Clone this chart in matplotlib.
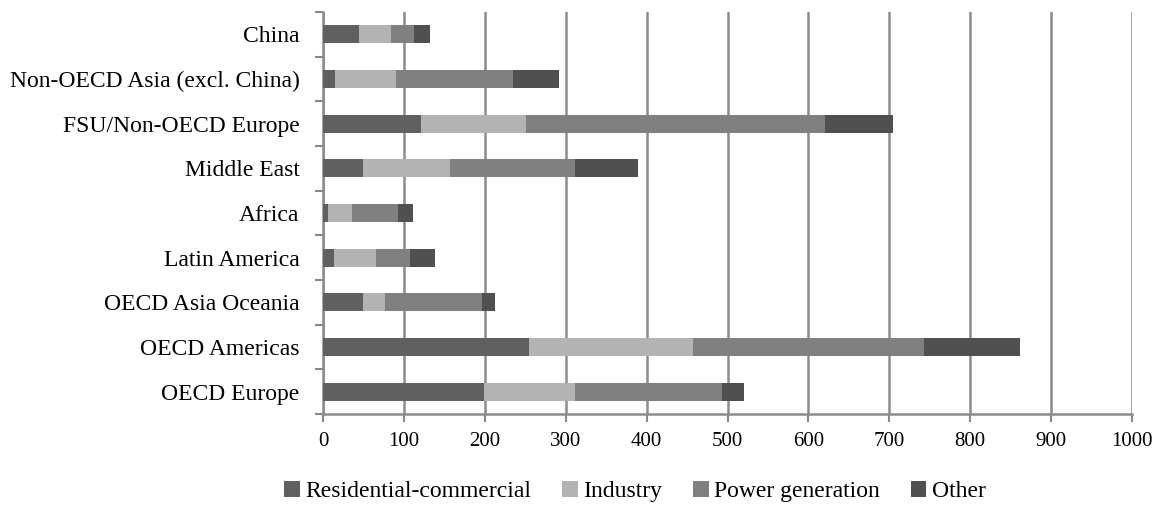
import matplotlib

matplotlib.use("Agg")
import matplotlib.pyplot as plt
import numpy as np

plt.rcParams["font.family"] = ["Liberation Serif", "DejaVu Serif"]

regions = [
    "OECD Europe",
    "OECD Americas",
    "OECD Asia Oceania",
    "Latin America",
    "Africa",
    "Middle East",
    "FSU/Non-OECD Europe",
    "Non-OECD Asia (excl. China)",
    "China",
]
residential = [199, 255, 49, 14, 6, 49, 121, 15, 44]
industry = [112, 202, 28, 52, 30, 108, 130, 75, 40]
power = [182, 286, 119, 41, 57, 155, 369, 145, 29]
other = [27, 119, 16, 31, 18, 77, 85, 57, 19]

series = [
    ("Residential-commercial", residential, "#606060"),
    ("Industry", industry, "#b3b3b3"),
    ("Power generation", power, "#808080"),
    ("Other", other, "#505050"),
]

fig = plt.figure(figsize=(11.59, 5.07), dpi=100)
ax = fig.add_axes([0.2787, 0.1834, 0.6980, 0.7929])

y = np.arange(len(regions))
left = np.zeros(len(regions))
for name, vals, color in series:
    ax.barh(y, vals, left=left, height=0.4, color=color, label=name, zorder=3)
    left += np.array(vals)

ax.set_xlim(0, 1000)
ax.set_ylim(-0.5, len(regions) - 0.5)
ax.set_xticks(np.arange(0, 1001, 100))
ax.set_yticks(y, regions)
ax.set_yticks(np.arange(-0.5, len(regions)), minor=True)
ax.tick_params(axis="y", which="major", length=0, pad=17, labelsize=17)
ax.tick_params(axis="y", which="minor", length=6, width=1.5, color="#888888")
ax.tick_params(axis="x", length=6, width=1.5, color="#888888", labelsize=15, pad=7)

ax.grid(True, axis="x", color="#8c8c8c", linewidth=1.8, zorder=0)
for s in ["top", "right"]:
    ax.spines[s].set_visible(False)
for s in ["left", "bottom"]:
    ax.spines[s].set_color("#8c8c8c")
    ax.spines[s].set_linewidth(1.8)

fig.legend(
    loc="center",
    bbox_to_anchor=(0.548, 0.03),
    ncol=4,
    frameon=False,
    fontsize=17,
    handlelength=0.65,
    handleheight=0.65,
    handletextpad=0.25,
    columnspacing=1.3,
    borderpad=0,
)

fig.savefig("out.png", dpi=100)
